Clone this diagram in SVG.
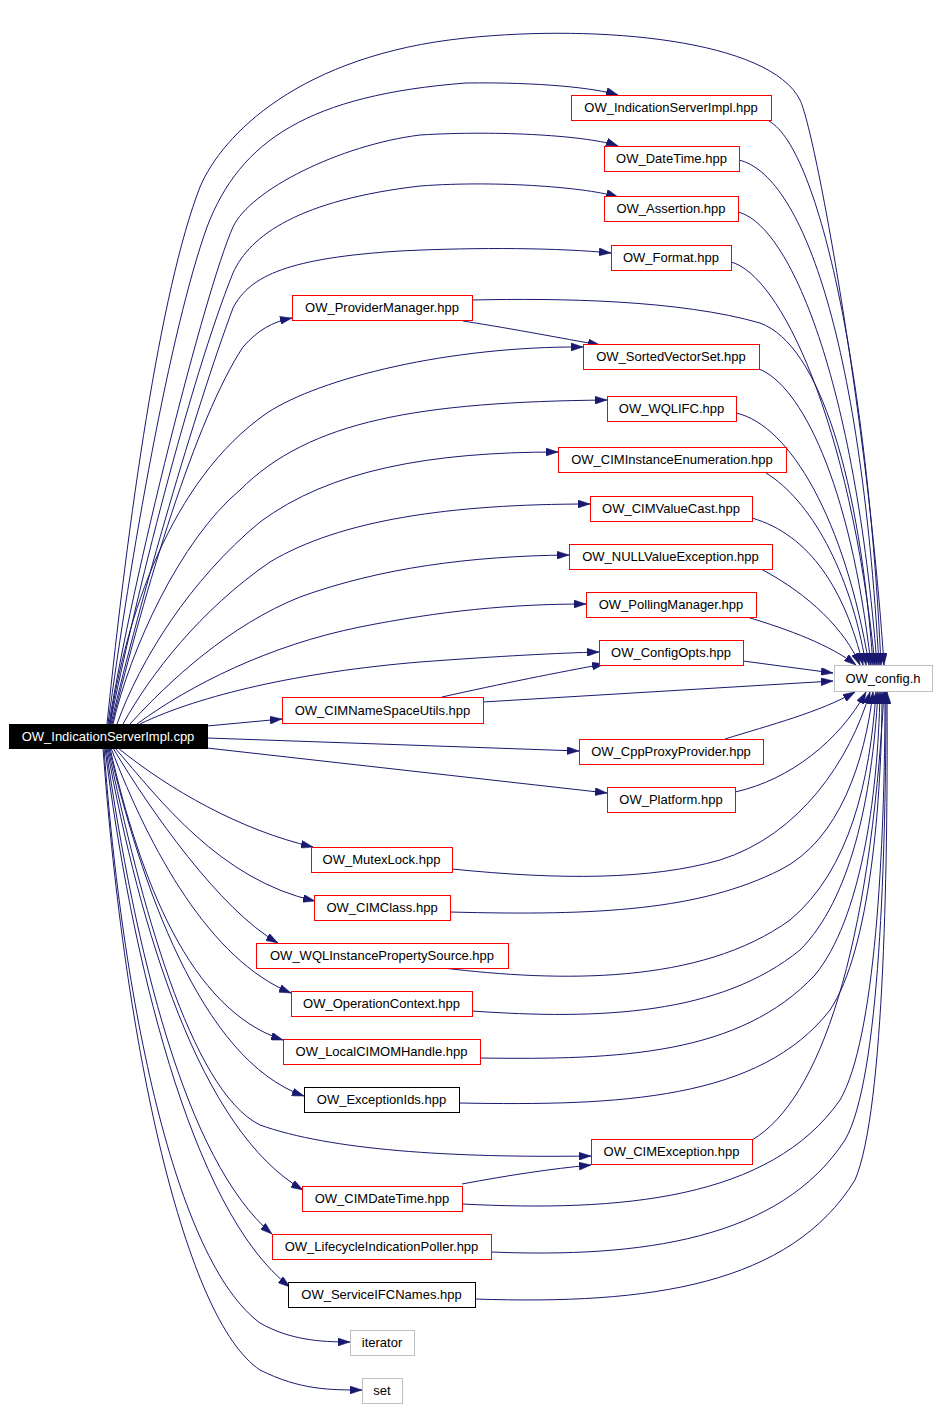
<svg xmlns="http://www.w3.org/2000/svg" width="939" height="1408" viewBox="0 0 939 1408">
<style>
.bg{fill:#ffffff}
.n rect{stroke-width:1}
.r rect{fill:#ffffff;stroke:#ff0000}
.k rect{fill:#ffffff;stroke:#000000}
.g rect{fill:#ffffff;stroke:#bfbfbf}
.s rect{fill:#000000;stroke:#000000}
.n text{font-family:"Liberation Sans",Arial,Helvetica,sans-serif;font-size:13px;text-anchor:middle;fill:#000000}
.s text{fill:#ffffff}
.e path{fill:none;stroke:#191970;stroke-width:1;marker-end:url(#a)}
</style>
<defs>
<marker id="a" viewBox="0 0 12 8" refX="12" refY="4" markerWidth="12" markerHeight="8" markerUnits="userSpaceOnUse" orient="auto">
<path d="M0,0 L12,4 L0,8 z" fill="#191970" stroke="#191970" stroke-width="0.5"/>
</marker>
</defs>
<rect class="bg" x="0" y="0" width="939" height="1408"/>
<g id="edges" class="e">
<!-- cpp to rank-2 (top) -->
<path d="M107,724 C128,520 160,290 200,187 C222,135 300,55 466,38 C600,24 770,40 800,100 C815,130 868,420 884,665"/>
<path d="M108,724 C130,560 170,330 207,227 C240,140 310,95 466,83 C540,82 595,88 618,95"/>
<path d="M109,724 C132,580 205,290 233,227 C250,190 340,145 420,135 C500,130 590,136 618,146"/>
<path d="M110,724 C135,600 190,380 233,273 C250,235 300,200 420,186 C500,180 590,188 618,197"/>
<path d="M111,724 C140,600 195,410 233,308 C250,275 290,258 400,251 C480,247 560,248 611,253"/>
<path d="M112,724 C145,590 195,420 243,347 C258,330 272,322 292,318"/>
<path d="M110,724 C125,620 170,480 267,413 C320,378 450,346 583,347"/>
<path d="M113,724 C130,650 180,540 240,490 C310,420 420,402 607,400"/>
<path d="M117,724 C140,660 190,580 260,522 C330,470 430,452 558,452"/>
<path d="M123,724 C150,675 200,610 270,562 C340,520 450,504 590,504"/>
<path d="M130,724 C170,680 230,625 300,597 C380,568 470,556 569,555"/>
<path d="M137,724 C190,685 270,645 360,627 C440,611 510,604 586,604"/>
<path d="M140,724 C200,695 300,672 420,662 C500,656 560,653 599,652"/>
<!-- cpp straight -->
<path d="M207,726 L282,719"/>
<path d="M207,738 L579,751"/>
<path d="M207,748 L607,793"/>
<!-- cpp to rank-1 (bottom) -->
<path d="M118,748 C170,790 240,830 313,847"/>
<path d="M115,748 C160,800 220,880 315,901"/>
<path d="M113,748 C150,810 220,910 278,943"/>
<path d="M111,748 C150,850 210,960 291,993"/>
<path d="M110,748 C140,880 190,1010 283,1040"/>
<path d="M109,748 C140,880 200,1060 304,1096"/>
<path d="M108,748 C140,900 190,1090 260,1125 C330,1150 450,1158 591,1156"/>
<path d="M107,748 C140,930 200,1130 303,1190"/>
<path d="M106,748 C135,950 185,1160 272,1234"/>
<path d="M105,748 C130,950 190,1210 290,1287"/>
<path d="M104,748 C122,1000 175,1260 260,1323 C290,1340 320,1342 350,1342"/>
<path d="M103,748 C125,1050 185,1320 260,1370 C300,1390 330,1390 362,1390"/>
<!-- inter-node -->
<path d="M463,321 C520,330 560,338 600,345"/>
<path d="M442,697 C500,684 560,672 604,664"/>
<path d="M462,1184 C510,1175 550,1169 591,1165"/>
<!-- to config.h top -->
<path d="M769,121 C820,150 868,380 881,665"/>
<path d="M739,160 C800,175 860,330 879,665"/>
<path d="M738,212 C790,225 855,380 877,665"/>
<path d="M731,262 C780,275 850,420 875,665"/>
<path d="M472,300 C560,298 680,300 760,323 C820,345 860,480 873,665"/>
<path d="M759,369 C800,385 850,480 871,665"/>
<path d="M736,413 C790,425 845,520 869,665"/>
<path d="M766,473 C810,500 850,570 866,665"/>
<path d="M752,518 C810,535 845,590 863,665"/>
<path d="M761,569 C810,595 845,630 860,665"/>
<path d="M747,617 C790,630 830,645 856,665"/>
<path d="M743,661 L833,673"/>
<path d="M483,702 L833,681"/>
<!-- to config.h bottom -->
<path d="M725,739 C770,725 820,712 855,692"/>
<path d="M735,792 C790,780 840,740 866,692"/>
<path d="M452,869 C560,880 650,880 720,860 C800,835 850,760 870,692"/>
<path d="M450,912 C600,916 700,910 780,870 C840,840 865,760 873,692"/>
<path d="M443,968 C560,982 700,985 790,920 C850,870 870,780 876,692"/>
<path d="M472,1011 C600,1020 720,1015 800,950 C850,900 872,800 878,692"/>
<path d="M480,1058 C620,1060 740,1055 815,975 C860,920 878,800 880,692"/>
<path d="M459,1103 C620,1106 760,1100 830,1010 C870,950 882,800 882,692"/>
<path d="M752,1140 C820,1100 870,950 884,692"/>
<path d="M462,1204 C620,1212 770,1200 840,1100 C875,1040 885,850 885,692"/>
<path d="M491,1252 C640,1258 780,1240 845,1140 C880,1080 886,850 886,692"/>
<path d="M475,1299 C650,1305 790,1285 855,1180 C885,1110 888,850 887,692"/>
</g>
<g id="node_cpp" class="n s"><rect x="9.5" y="724.5" width="198" height="24"/><text x="108" y="740.5">OW_IndicationServerImpl.cpp</text></g>
<g id="node_isi_hpp" class="n r"><rect x="571.5" y="95.5" width="200" height="25"/><text x="671" y="112">OW_IndicationServerImpl.hpp</text></g>
<g id="node_datetime" class="n r"><rect x="604.5" y="146.5" width="135" height="25"/><text x="671.5" y="163">OW_DateTime.hpp</text></g>
<g id="node_assertion" class="n r"><rect x="604.5" y="196.5" width="134" height="25"/><text x="671" y="213">OW_Assertion.hpp</text></g>
<g id="node_format" class="n r"><rect x="611.5" y="245.5" width="120" height="25"/><text x="671" y="262">OW_Format.hpp</text></g>
<g id="node_providermanager" class="n r"><rect x="292.5" y="295.5" width="180" height="25"/><text x="382" y="312">OW_ProviderManager.hpp</text></g>
<g id="node_sortedvectorset" class="n r"><rect x="583.5" y="344.5" width="176" height="25"/><text x="671" y="361">OW_SortedVectorSet.hpp</text></g>
<g id="node_wqlifc" class="n r"><rect x="607.5" y="396.5" width="129" height="25"/><text x="671.5" y="413">OW_WQLIFC.hpp</text></g>
<g id="node_ciminstanceenumeration" class="n r"><rect x="558.5" y="447.5" width="228" height="25"/><text x="672" y="464">OW_CIMInstanceEnumeration.hpp</text></g>
<g id="node_cimvaluecast" class="n r"><rect x="590.5" y="496.5" width="162" height="25"/><text x="671" y="513">OW_CIMValueCast.hpp</text></g>
<g id="node_nullvalueexception" class="n r"><rect x="569.5" y="544.5" width="203" height="25"/><text x="670.5" y="561">OW_NULLValueException.hpp</text></g>
<g id="node_pollingmanager" class="n r"><rect x="586.5" y="592.5" width="170" height="25"/><text x="671" y="609">OW_PollingManager.hpp</text></g>
<g id="node_configopts" class="n r"><rect x="599.5" y="640.5" width="144" height="25"/><text x="671" y="657">OW_ConfigOpts.hpp</text></g>
<g id="node_config_h" class="n g"><rect x="834.5" y="665.5" width="98" height="26"/><text x="883" y="682.5">OW_config.h</text></g>
<g id="node_cimnamespaceutils" class="n r"><rect x="282.5" y="697.5" width="201" height="26"/><text x="382.5" y="714.5">OW_CIMNameSpaceUtils.hpp</text></g>
<g id="node_cppproxyprovider" class="n r"><rect x="579.5" y="739.5" width="184" height="25"/><text x="671" y="756">OW_CppProxyProvider.hpp</text></g>
<g id="node_platform" class="n r"><rect x="607.5" y="787.5" width="128" height="25"/><text x="671" y="804">OW_Platform.hpp</text></g>
<g id="node_mutexlock" class="n r"><rect x="311.5" y="847.5" width="141" height="25"/><text x="381.5" y="864">OW_MutexLock.hpp</text></g>
<g id="node_cimclass" class="n r"><rect x="314.5" y="895.5" width="136" height="25"/><text x="382" y="912">OW_CIMClass.hpp</text></g>
<g id="node_wqlinstancepropertysource" class="n r"><rect x="256.5" y="943.5" width="252" height="25"/><text x="382" y="960">OW_WQLInstancePropertySource.hpp</text></g>
<g id="node_operationcontext" class="n r"><rect x="291.5" y="991.5" width="181" height="25"/><text x="381.5" y="1008">OW_OperationContext.hpp</text></g>
<g id="node_localcimomhandle" class="n r"><rect x="283.5" y="1039.5" width="197" height="25"/><text x="381.5" y="1056">OW_LocalCIMOMHandle.hpp</text></g>
<g id="node_exceptionids" class="n k"><rect x="304.5" y="1087.5" width="155" height="25"/><text x="381.5" y="1104">OW_ExceptionIds.hpp</text></g>
<g id="node_cimexception" class="n r"><rect x="591.5" y="1139.5" width="161" height="25"/><text x="671.5" y="1156">OW_CIMException.hpp</text></g>
<g id="node_cimdatetime" class="n r"><rect x="302.5" y="1186.5" width="160" height="25"/><text x="382" y="1203">OW_CIMDateTime.hpp</text></g>
<g id="node_lifecycleindicationpoller" class="n r"><rect x="272.5" y="1234.5" width="219" height="25"/><text x="381.5" y="1251">OW_LifecycleIndicationPoller.hpp</text></g>
<g id="node_serviceifcnames" class="n k"><rect x="288.5" y="1282.5" width="187" height="25"/><text x="381.5" y="1299">OW_ServiceIFCNames.hpp</text></g>
<g id="node_iterator" class="n g"><rect x="350.5" y="1330.5" width="64" height="25"/><text x="382" y="1347">iterator</text></g>
<g id="node_set" class="n g"><rect x="362.5" y="1378.5" width="40" height="25"/><text x="382" y="1395">set</text></g>
</svg>
